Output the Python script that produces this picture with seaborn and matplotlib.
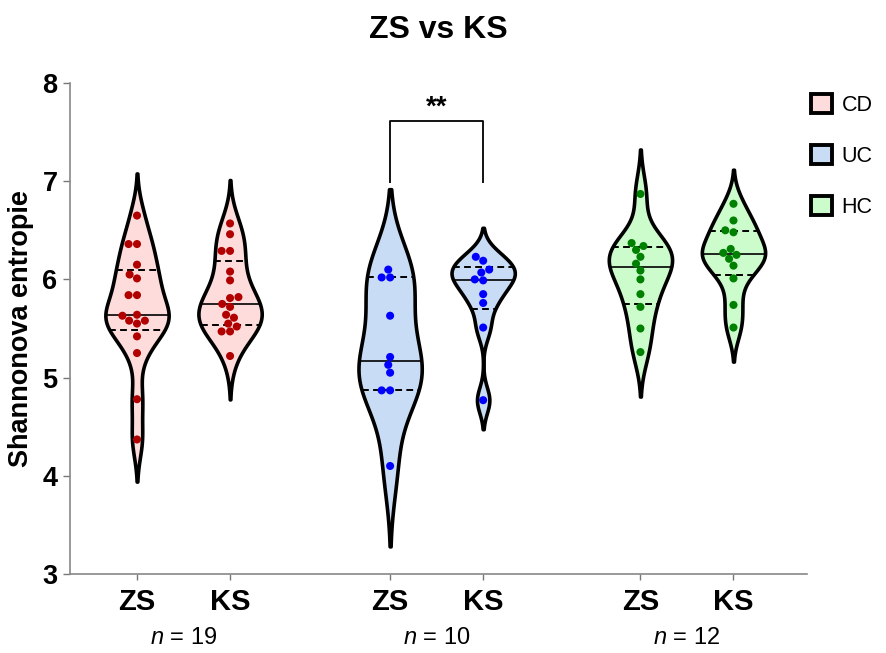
import numpy as np
import pandas as pd
import seaborn as sns
import matplotlib
matplotlib.use("Agg")
import matplotlib.pyplot as plt
from matplotlib.patches import Patch
import matplotlib.transforms as mtransforms

# ---------------- data ----------------
groups = ["CD", "UC", "HC"]
conditions = ["ZS", "KS"]
n_labels = ["$n$ = 19", "$n$ = 10", "$n$ = 12"]

cd_zs = [6.65, 6.36, 6.36, 6.15, 6.01, 6.05, 5.84, 5.84, 5.63, 5.64, 5.55,
         5.58, 5.58, 5.42, 5.25, 4.78, 4.37]
cd_ks = [6.57, 6.46, 6.29, 6.29, 6.08, 5.99, 5.81, 5.82, 5.75, 5.72, 5.64,
         5.61, 5.55, 5.52, 5.47, 5.47, 5.22]
uc_zs = [6.10, 6.02, 6.02, 5.63, 5.21, 5.13, 5.05, 4.87, 4.87, 4.10]
uc_ks = [6.23, 6.19, 6.07, 6.10, 5.99, 6.00, 5.85, 5.76, 5.51, 4.77]
hc_zs = [6.87, 6.37, 6.30, 6.34, 6.23, 6.16, 6.09, 6.00, 5.85, 5.72, 5.50, 5.26]
hc_ks = [6.77, 6.60, 6.50, 6.48, 6.27, 6.31, 6.21, 6.25, 6.14, 6.01, 5.74, 5.51]

positions = [0.0, 1.0, 2.72, 3.72, 5.41, 6.41]
series = [cd_zs, cd_ks, uc_zs, uc_ks, hc_zs, hc_ks]
series_group = ["CD", "CD", "UC", "UC", "HC", "HC"]

fill_colors = {"CD": "#FFDCDC", "UC": "#C8DCF5", "HC": "#CCFCCC"}
dot_colors = {"CD": "#B00000", "UC": "#0000FF", "HC": "#008000"}

rows = []
for pos, vals, g in zip(positions, series, series_group):
    for v in vals:
        rows.append({"pos": pos, "value": v, "group": g})
df = pd.DataFrame(rows)

# ---------------- style ----------------
sns.set_theme(style="white")
plt.rcParams["font.family"] = ["Liberation Sans", "DejaVu Sans"]
plt.rcParams["mathtext.fontset"] = "custom"
plt.rcParams["mathtext.it"] = "Liberation Sans:italic"
plt.rcParams["mathtext.rm"] = "Liberation Sans"
for key in ["text.color", "axes.labelcolor", "xtick.labelcolor", "ytick.labelcolor"]:
    plt.rcParams[key] = "black"

fig = plt.figure(figsize=(8.87, 6.53), dpi=100)
ax = fig.add_axes([70 / 887, 79 / 653, 737 / 887, 491 / 653])


def robust_silverman(kde):
    d = np.asarray(kde.dataset).ravel()
    sd = d.std(ddof=1)
    q75, q25 = np.percentile(d, [75, 25])
    a = min(sd, (q75 - q25) / 1.34)
    return 0.9 * a * len(d) ** (-0.2) / sd


sns.violinplot(data=df, x="pos", y="value", hue="group", hue_order=groups,
               palette=fill_colors, native_scale=True, dodge=False,
               density_norm="width", width=0.68, inner=None,
               bw_method=robust_silverman, cut=2.25, saturation=1,
               linewidth=2.6, linecolor="black", legend=False, ax=ax)

# quartile / median lines, width taken from each drawn violin outline
for coll in list(ax.collections):
    paths = coll.get_paths()
    if not paths:
        continue
    verts = paths[0].vertices
    cx = verts[:, 0].mean()
    k = int(np.argmin([abs(cx - p) for p in positions]))
    center = positions[k]
    right = verts[verts[:, 0] >= center]
    order = np.argsort(right[:, 1])
    ys, xs = right[order, 1], right[order, 0]
    q1, med, q3 = np.percentile(series[k], [25, 50, 75], method="weibull")
    for val, style, lw in [(q1, (0, (3.5, 2.2)), 1.4), (med, "-", 1.2),
                           (q3, (0, (3.5, 2.2)), 1.4)]:
        hw = np.interp(val, ys, xs) - center
        ax.plot([center - hw, center + hw], [val, val], color="black",
                lw=lw, linestyle=style, zorder=3, solid_capstyle="butt")

sns.swarmplot(data=df, x="pos", y="value", hue="group", hue_order=groups,
              palette=dot_colors, native_scale=True, dodge=False,
              size=5.8, legend=False, ax=ax, zorder=5)

# ---------------- axes ----------------
ax.set_ylim(3, 8)
ax.set_xlim(-0.72, 7.2)
ax.set_yticks([3, 4, 5, 6, 7, 8])
ax.set_xticks(positions)
ax.set_xticklabels(conditions * 3)
ax.set_xlabel("")
ax.set_ylabel("Shannonova entropie", fontsize=19.5, fontweight="bold", labelpad=6)
for lab in ax.get_xticklabels() + ax.get_yticklabels():
    lab.set_fontweight("bold")
ax.tick_params(axis="x", labelsize=21, length=4, width=1, color="#777777",
               pad=6, direction="out", bottom=True)
ax.tick_params(axis="y", labelsize=19.5, length=5, width=1, color="#777777",
               pad=4, direction="out", left=True)
for side in ["top", "right"]:
    ax.spines[side].set_visible(False)
for side in ["left", "bottom"]:
    ax.spines[side].set_color("#888888")
    ax.spines[side].set_linewidth(1.2)

fig.text((70 + 737 / 2) / 887, 1 - 30 / 653, "ZS vs KS", ha="center",
         va="center", fontsize=23, fontweight="bold")

# group n labels
trans = mtransforms.blended_transform_factory(ax.transData, ax.transAxes)
for k, lab in enumerate(n_labels):
    cx = (positions[2 * k] + positions[2 * k + 1]) / 2
    ax.text(cx, -0.13, lab, transform=trans, ha="center", va="center",
            fontsize=17)

# significance bracket
x1, x2 = positions[2], positions[3]
ax.plot([x1, x1, x2, x2], [6.98, 7.61, 7.61, 6.98], color="black", lw=1.3,
        clip_on=False, solid_capstyle="butt")
ax.text((x1 + x2) / 2, 7.75, "**", ha="center", va="center", fontsize=20,
        fontweight="bold")

# legend
handles = [Patch(facecolor=fill_colors[g], edgecolor="black", linewidth=2.8,
                 label=g) for g in groups]
fig.legend(handles=handles, loc="upper left", bbox_to_anchor=(0.893, 0.885),
           frameon=False, fontsize=15.5, handlelength=0.95, handleheight=0.95,
           labelspacing=1.35, handletextpad=0.45)

fig.savefig("out.png", dpi=100)
